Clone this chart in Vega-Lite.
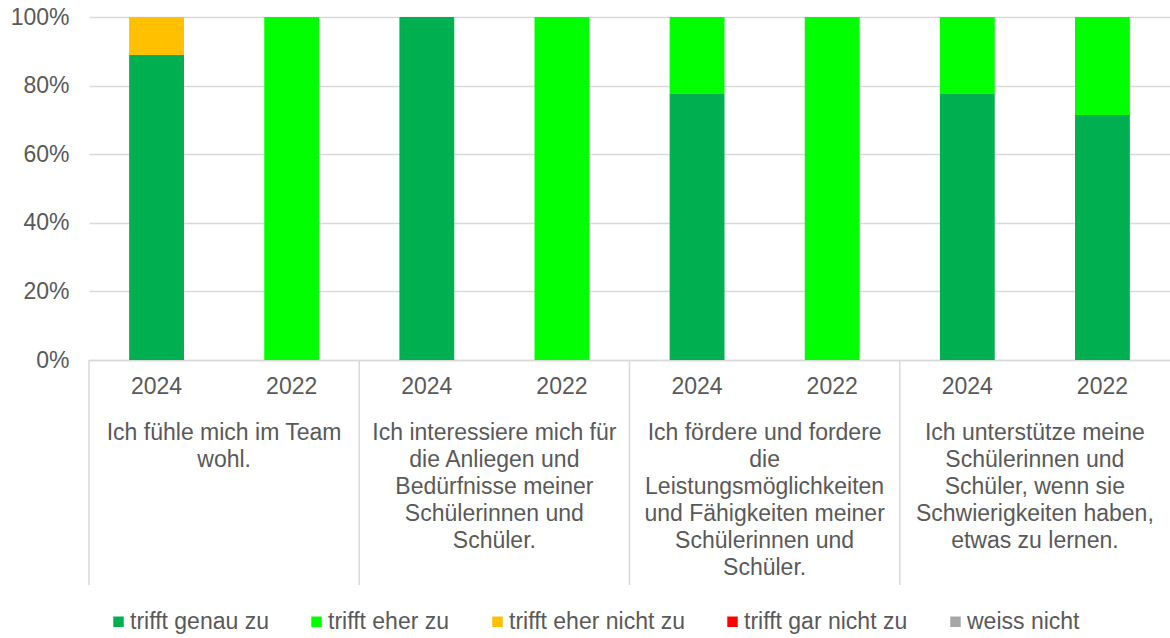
{
  "$schema": "https://vega.github.io/schema/vega-lite/v6.json",
  "width": 1081,
  "height": 343,
  "autosize": {"type": "none"},
  "padding": {"left": 89, "top": 17, "right": 0, "bottom": 278},
  "background": "white",
  "config": {
    "view": {"stroke": null},
    "font": "Liberation Sans",
    "text": {"font": "Liberation Sans"}
  },
  "datasets": {
    "bars": [
      {"g": "G1", "key": "G1-2024", "cat": "trifft genau zu", "k": 1, "v": 88.9},
      {"g": "G1", "key": "G1-2024", "cat": "trifft eher nicht zu", "k": 3, "v": 11.1},
      {"g": "G1", "key": "G1-2022", "cat": "trifft eher zu", "k": 2, "v": 100},
      {"g": "G2", "key": "G2-2024", "cat": "trifft genau zu", "k": 1, "v": 100},
      {"g": "G2", "key": "G2-2022", "cat": "trifft eher zu", "k": 2, "v": 100},
      {"g": "G3", "key": "G3-2024", "cat": "trifft genau zu", "k": 1, "v": 77.8},
      {"g": "G3", "key": "G3-2024", "cat": "trifft eher zu", "k": 2, "v": 22.2},
      {"g": "G3", "key": "G3-2022", "cat": "trifft eher zu", "k": 2, "v": 100},
      {"g": "G4", "key": "G4-2024", "cat": "trifft genau zu", "k": 1, "v": 77.8},
      {"g": "G4", "key": "G4-2024", "cat": "trifft eher zu", "k": 2, "v": 22.2},
      {"g": "G4", "key": "G4-2022", "cat": "trifft genau zu", "k": 1, "v": 71.4},
      {"g": "G4", "key": "G4-2022", "cat": "trifft eher zu", "k": 2, "v": 28.6}
    ],
    "groups": [
      {"g": "G1", "label": "Ich fühle mich im Team\nwohl."},
      {"g": "G2", "label": "Ich interessiere mich für\ndie Anliegen und\nBedürfnisse meiner\nSchülerinnen und\nSchüler."},
      {"g": "G3", "label": "Ich fördere und fordere\ndie\nLeistungsmöglichkeiten\nund Fähigkeiten meiner\nSchülerinnen und\nSchüler."},
      {"g": "G4", "label": "Ich unterstütze meine\nSchülerinnen und\nSchüler, wenn sie\nSchwierigkeiten haben,\netwas zu lernen."}
    ]
  },
  "layer": [
    {
      "data": {"name": "bars"},
      "mark": {"type": "bar"},
      "encoding": {
        "x": {
          "field": "key", "type": "nominal", "sort": null,
          "scale": {"paddingInner": 0.594, "paddingOuter": 0.297},
          "axis": {
            "title": null,
            "labelExpr": "split(datum.value, '-')[1]",
            "labelAngle": 0,
            "labelFontSize": 23,
            "labelColor": "#595959",
            "labelPadding": 15,
            "ticks": false,
            "domainColor": "#d9d9d9",
            "domainWidth": 1.5
          }
        },
        "y": {
          "field": "v", "type": "quantitative", "stack": "zero",
          "scale": {"domain": [0, 100]},
          "axis": {
            "title": null,
            "values": [0, 20, 40, 60, 80, 100],
            "labelExpr": "datum.value + '%'",
            "labelFontSize": 23,
            "labelColor": "#595959",
            "labelPadding": 20,
            "ticks": false,
            "domain": false,
            "gridColor": "#d9d9d9",
            "gridWidth": 1.5
          }
        },
        "color": {
          "field": "cat", "type": "nominal",
          "scale": {
            "domain": ["trifft genau zu", "trifft eher zu", "trifft eher nicht zu", "trifft gar nicht zu", "weiss nicht"],
            "range": ["#00B050", "#00FF00", "#FFC000", "#FF0000", "#A6A6A6"]
          },
          "legend": {
            "title": null,
            "orient": "none",
            "direction": "horizontal",
            "legendX": 18,
            "legendY": 593,
            "symbolType": "square",
            "symbolSize": 110,
            "symbolStrokeWidth": 0,
            "symbolOpacity": 1,
            "labelFontSize": 23,
            "labelLimit": 400,
            "labelColor": "#595959",
            "labelOffset": 0,
            "columnPadding": 36
          }
        },
        "order": {"field": "k", "type": "quantitative"}
      }
    },
    {
      "data": {"name": "groups"},
      "mark": {"type": "rule", "color": "#d9d9d9", "strokeWidth": 1.5, "y2Offset": 225},
      "encoding": {
        "x": {"field": "g", "type": "nominal", "sort": null, "bandPosition": 0,
              "scale": {"paddingInner": 0, "paddingOuter": 0}, "axis": null},
        "y": {"datum": 0},
        "y2": {"datum": 0}
      }
    },
    {
      "data": {"name": "groups"},
      "mark": {"type": "text", "lineBreak": "\n", "baseline": "top", "align": "center",
               "fontSize": 23, "lineHeight": 27, "color": "#595959", "dy": 62},
      "encoding": {
        "x": {"field": "g", "type": "nominal", "sort": null,
              "scale": {"paddingInner": 0, "paddingOuter": 0}, "axis": null},
        "y": {"datum": 0},
        "text": {"field": "label"}
      }
    }
  ],
  "resolve": {"scale": {"x": "independent"}, "axis": {"x": "independent"}}
}
